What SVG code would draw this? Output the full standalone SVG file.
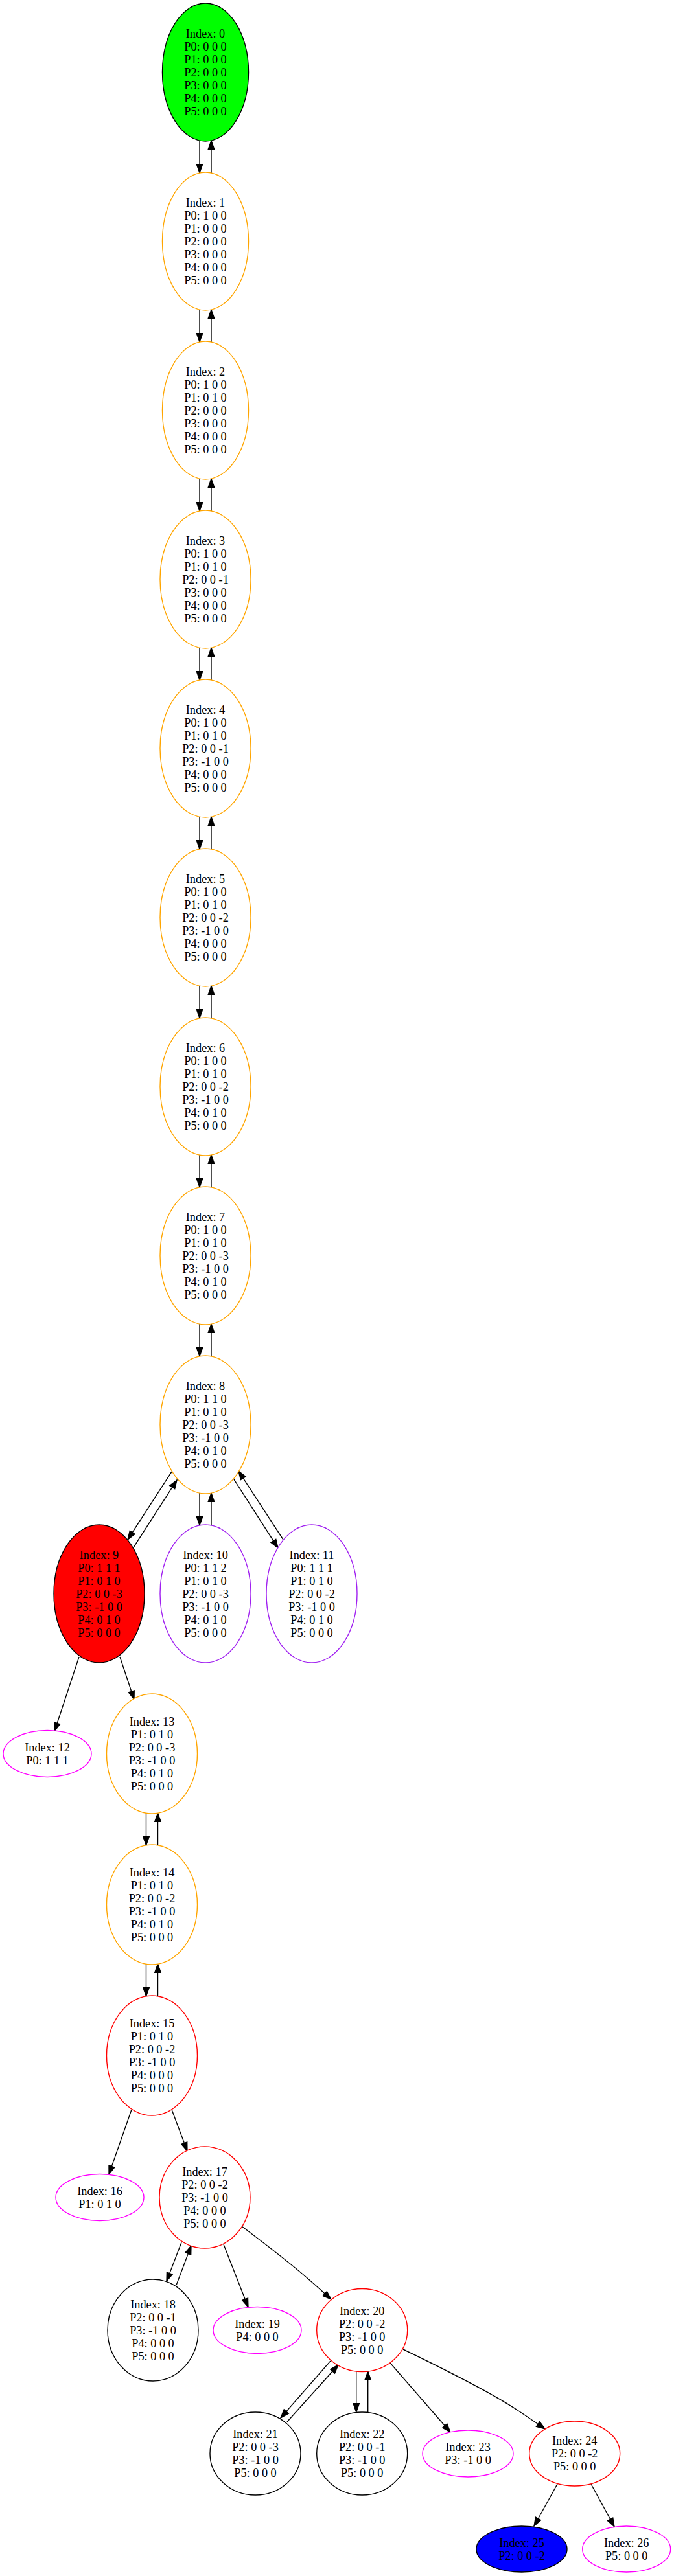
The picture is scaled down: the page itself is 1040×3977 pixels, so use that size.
<svg xmlns="http://www.w3.org/2000/svg" width="1040" height="3977" viewBox="0 0 1040 3977">
<defs>
<style>
text{font-family:"Liberation Serif","Times New Roman",serif;font-size:18.3px;text-anchor:middle;fill:#000}
ellipse{stroke-width:1.4}
.or{fill:#fff;stroke:#ffa500}
.pu{fill:#fff;stroke:#a020f0}
.mg{fill:#fff;stroke:#ff00ff}
.rd{fill:#fff;stroke:#ff0000}
.bk{fill:#fff;stroke:#000}
#edges path{fill:none;stroke:#000;stroke-width:1.4;marker-end:url(#ah)}
</style>
<marker id="ah" markerUnits="userSpaceOnUse" markerWidth="16" markerHeight="12" refX="13.3" refY="0" viewBox="-1 -6 16 12" orient="auto" overflow="visible">
<path d="M0,-4.7 L13.3,0 L0,4.7 Z" fill="#000" stroke="#000" stroke-width="1.3"/>
</marker>
</defs>
<rect width="1040" height="3977" fill="#fff"/>
<g id="edges">
<path d="M308,217 L308,267"/><path d="M326,267 L326,217"/>
<path d="M308,478 L308,528"/><path d="M326,528 L326,478"/>
<path d="M308,739 L308,789"/><path d="M326,789 L326,739"/>
<path d="M308,1000 L308,1050"/><path d="M326,1050 L326,1000"/>
<path d="M308,1261 L308,1311"/><path d="M326,1311 L326,1261"/>
<path d="M308,1522 L308,1572"/><path d="M326,1572 L326,1522"/>
<path d="M308,1783 L308,1833"/><path d="M326,1833 L326,1783"/>
<path d="M308,2044 L308,2094"/><path d="M326,2094 L326,2044"/>
<path d="M308,2305 L308,2355"/><path d="M326,2355 L326,2305"/>
<path d="M265,2272 L197,2377"/><path d="M206,2389 L273,2285"/>
<path d="M361,2284 L429,2390"/><path d="M437,2377 L368,2271"/>
<path d="M122,2558 L84,2673"/>
<path d="M185,2558 L207,2624"/>
<path d="M225.5,2799 L225.5,2849"/><path d="M243.5,2849 L243.5,2799"/>
<path d="M225.5,3032 L225.5,3082"/><path d="M243.5,3082 L243.5,3032"/>
<path d="M203,3257 L168,3357"/>
<path d="M265,3257 L289,3321"/>
<path d="M280,3462 L257,3522"/><path d="M272,3528 L295,3467"/>
<path d="M345,3465 L383,3562"/>
<path d="M373,3437 C410,3465 448,3494 474,3517 C487,3528 499,3539 511,3550"/>
<path d="M510,3645 L433,3733"/><path d="M443,3739 L522,3651"/>
<path d="M549.7,3661 L549.7,3724"/><path d="M567.7,3724 L567.7,3661"/>
<path d="M602,3648 L695,3755"/>
<path d="M622,3627 C680,3655 760,3695 800,3722 C815,3732 828,3741 841,3750"/>
<path d="M860,3835 L824,3900"/>
<path d="M912,3835 L948,3901"/>
</g>
<g id="n0"><ellipse cx="317" cy="111.5" rx="66.5" ry="106.5" fill="#00ff00" stroke="#000"/><text x="317" y="57.5"><tspan x="317">Index: 0</tspan><tspan x="317" dy="20">P0: 0 0 0</tspan><tspan x="317" dy="20">P1: 0 0 0</tspan><tspan x="317" dy="20">P2: 0 0 0</tspan><tspan x="317" dy="20">P3: 0 0 0</tspan><tspan x="317" dy="20">P4: 0 0 0</tspan><tspan x="317" dy="20">P5: 0 0 0</tspan></text></g>
<g id="n1"><ellipse class="or" cx="317" cy="372.5" rx="66.5" ry="106.5"/><text x="317" y="318.5"><tspan x="317">Index: 1</tspan><tspan x="317" dy="20">P0: 1 0 0</tspan><tspan x="317" dy="20">P1: 0 0 0</tspan><tspan x="317" dy="20">P2: 0 0 0</tspan><tspan x="317" dy="20">P3: 0 0 0</tspan><tspan x="317" dy="20">P4: 0 0 0</tspan><tspan x="317" dy="20">P5: 0 0 0</tspan></text></g>
<g id="n2"><ellipse class="or" cx="317" cy="633.5" rx="66.5" ry="106.5"/><text x="317" y="579.5"><tspan x="317">Index: 2</tspan><tspan x="317" dy="20">P0: 1 0 0</tspan><tspan x="317" dy="20">P1: 0 1 0</tspan><tspan x="317" dy="20">P2: 0 0 0</tspan><tspan x="317" dy="20">P3: 0 0 0</tspan><tspan x="317" dy="20">P4: 0 0 0</tspan><tspan x="317" dy="20">P5: 0 0 0</tspan></text></g>
<g id="n3"><ellipse class="or" cx="317" cy="894.5" rx="70" ry="106.5"/><text x="317" y="840.5"><tspan x="317">Index: 3</tspan><tspan x="317" dy="20">P0: 1 0 0</tspan><tspan x="317" dy="20">P1: 0 1 0</tspan><tspan x="317" dy="20">P2: 0 0 -1</tspan><tspan x="317" dy="20">P3: 0 0 0</tspan><tspan x="317" dy="20">P4: 0 0 0</tspan><tspan x="317" dy="20">P5: 0 0 0</tspan></text></g>
<g id="n4"><ellipse class="or" cx="317" cy="1155.5" rx="70" ry="106.5"/><text x="317" y="1101.5"><tspan x="317">Index: 4</tspan><tspan x="317" dy="20">P0: 1 0 0</tspan><tspan x="317" dy="20">P1: 0 1 0</tspan><tspan x="317" dy="20">P2: 0 0 -1</tspan><tspan x="317" dy="20">P3: -1 0 0</tspan><tspan x="317" dy="20">P4: 0 0 0</tspan><tspan x="317" dy="20">P5: 0 0 0</tspan></text></g>
<g id="n5"><ellipse class="or" cx="317" cy="1416.5" rx="70" ry="106.5"/><text x="317" y="1362.5"><tspan x="317">Index: 5</tspan><tspan x="317" dy="20">P0: 1 0 0</tspan><tspan x="317" dy="20">P1: 0 1 0</tspan><tspan x="317" dy="20">P2: 0 0 -2</tspan><tspan x="317" dy="20">P3: -1 0 0</tspan><tspan x="317" dy="20">P4: 0 0 0</tspan><tspan x="317" dy="20">P5: 0 0 0</tspan></text></g>
<g id="n6"><ellipse class="or" cx="317" cy="1677.5" rx="70" ry="106.5"/><text x="317" y="1623.5"><tspan x="317">Index: 6</tspan><tspan x="317" dy="20">P0: 1 0 0</tspan><tspan x="317" dy="20">P1: 0 1 0</tspan><tspan x="317" dy="20">P2: 0 0 -2</tspan><tspan x="317" dy="20">P3: -1 0 0</tspan><tspan x="317" dy="20">P4: 0 1 0</tspan><tspan x="317" dy="20">P5: 0 0 0</tspan></text></g>
<g id="n7"><ellipse class="or" cx="317" cy="1938.5" rx="70" ry="106.5"/><text x="317" y="1884.5"><tspan x="317">Index: 7</tspan><tspan x="317" dy="20">P0: 1 0 0</tspan><tspan x="317" dy="20">P1: 0 1 0</tspan><tspan x="317" dy="20">P2: 0 0 -3</tspan><tspan x="317" dy="20">P3: -1 0 0</tspan><tspan x="317" dy="20">P4: 0 1 0</tspan><tspan x="317" dy="20">P5: 0 0 0</tspan></text></g>
<g id="n8"><ellipse class="or" cx="317" cy="2199.5" rx="70" ry="106.5"/><text x="317" y="2145.5"><tspan x="317">Index: 8</tspan><tspan x="317" dy="20">P0: 1 1 0</tspan><tspan x="317" dy="20">P1: 0 1 0</tspan><tspan x="317" dy="20">P2: 0 0 -3</tspan><tspan x="317" dy="20">P3: -1 0 0</tspan><tspan x="317" dy="20">P4: 0 1 0</tspan><tspan x="317" dy="20">P5: 0 0 0</tspan></text></g>
<g id="n9"><ellipse cx="153" cy="2460.5" rx="70" ry="106.5" fill="#ff0000" stroke="#000"/><text x="153" y="2406.5"><tspan x="153">Index: 9</tspan><tspan x="153" dy="20">P0: 1 1 1</tspan><tspan x="153" dy="20">P1: 0 1 0</tspan><tspan x="153" dy="20">P2: 0 0 -3</tspan><tspan x="153" dy="20">P3: -1 0 0</tspan><tspan x="153" dy="20">P4: 0 1 0</tspan><tspan x="153" dy="20">P5: 0 0 0</tspan></text></g>
<g id="n10"><ellipse class="pu" cx="317" cy="2460.5" rx="70" ry="106.5"/><text x="317" y="2406.5"><tspan x="317">Index: 10</tspan><tspan x="317" dy="20">P0: 1 1 2</tspan><tspan x="317" dy="20">P1: 0 1 0</tspan><tspan x="317" dy="20">P2: 0 0 -3</tspan><tspan x="317" dy="20">P3: -1 0 0</tspan><tspan x="317" dy="20">P4: 0 1 0</tspan><tspan x="317" dy="20">P5: 0 0 0</tspan></text></g>
<g id="n11"><ellipse class="pu" cx="481" cy="2460.5" rx="70" ry="106.5"/><text x="481" y="2406.5"><tspan x="481">Index: 11</tspan><tspan x="481" dy="20">P0: 1 1 1</tspan><tspan x="481" dy="20">P1: 0 1 0</tspan><tspan x="481" dy="20">P2: 0 0 -2</tspan><tspan x="481" dy="20">P3: -1 0 0</tspan><tspan x="481" dy="20">P4: 0 1 0</tspan><tspan x="481" dy="20">P5: 0 0 0</tspan></text></g>
<g id="n12"><ellipse class="mg" cx="73" cy="2707.5" rx="68" ry="36"/><text x="73" y="2703.5"><tspan x="73">Index: 12</tspan><tspan x="73" dy="20">P0: 1 1 1</tspan></text></g>
<g id="n13"><ellipse class="or" cx="234.5" cy="2707.5" rx="70" ry="92.5"/><text x="234.5" y="2663.5"><tspan x="234.5">Index: 13</tspan><tspan x="234.5" dy="20">P1: 0 1 0</tspan><tspan x="234.5" dy="20">P2: 0 0 -3</tspan><tspan x="234.5" dy="20">P3: -1 0 0</tspan><tspan x="234.5" dy="20">P4: 0 1 0</tspan><tspan x="234.5" dy="20">P5: 0 0 0</tspan></text></g>
<g id="n14"><ellipse class="or" cx="234.5" cy="2940.5" rx="70" ry="92.5"/><text x="234.5" y="2896.5"><tspan x="234.5">Index: 14</tspan><tspan x="234.5" dy="20">P1: 0 1 0</tspan><tspan x="234.5" dy="20">P2: 0 0 -2</tspan><tspan x="234.5" dy="20">P3: -1 0 0</tspan><tspan x="234.5" dy="20">P4: 0 1 0</tspan><tspan x="234.5" dy="20">P5: 0 0 0</tspan></text></g>
<g id="n15"><ellipse class="rd" cx="234.5" cy="3173.5" rx="70" ry="92.5"/><text x="234.5" y="3129.5"><tspan x="234.5">Index: 15</tspan><tspan x="234.5" dy="20">P1: 0 1 0</tspan><tspan x="234.5" dy="20">P2: 0 0 -2</tspan><tspan x="234.5" dy="20">P3: -1 0 0</tspan><tspan x="234.5" dy="20">P4: 0 0 0</tspan><tspan x="234.5" dy="20">P5: 0 0 0</tspan></text></g>
<g id="n16"><ellipse class="mg" cx="154" cy="3392.5" rx="68" ry="36"/><text x="154" y="3388.5"><tspan x="154">Index: 16</tspan><tspan x="154" dy="20">P1: 0 1 0</tspan></text></g>
<g id="n17"><ellipse class="rd" cx="316" cy="3392.5" rx="70" ry="78.5"/><text x="316" y="3358.5"><tspan x="316">Index: 17</tspan><tspan x="316" dy="20">P2: 0 0 -2</tspan><tspan x="316" dy="20">P3: -1 0 0</tspan><tspan x="316" dy="20">P4: 0 0 0</tspan><tspan x="316" dy="20">P5: 0 0 0</tspan></text></g>
<g id="n18"><ellipse class="bk" cx="236" cy="3597.5" rx="70" ry="78.5"/><text x="236" y="3563.5"><tspan x="236">Index: 18</tspan><tspan x="236" dy="20">P2: 0 0 -1</tspan><tspan x="236" dy="20">P3: -1 0 0</tspan><tspan x="236" dy="20">P4: 0 0 0</tspan><tspan x="236" dy="20">P5: 0 0 0</tspan></text></g>
<g id="n19"><ellipse class="mg" cx="397" cy="3597.5" rx="68" ry="36"/><text x="397" y="3593.5"><tspan x="397">Index: 19</tspan><tspan x="397" dy="20">P4: 0 0 0</tspan></text></g>
<g id="n20"><ellipse class="rd" cx="558.7" cy="3597.5" rx="70" ry="64"/><text x="558.7" y="3573.5"><tspan x="558.7">Index: 20</tspan><tspan x="558.7" dy="20">P2: 0 0 -2</tspan><tspan x="558.7" dy="20">P3: -1 0 0</tspan><tspan x="558.7" dy="20">P5: 0 0 0</tspan></text></g>
<g id="n21"><ellipse class="bk" cx="394" cy="3788" rx="70" ry="64"/><text x="394" y="3764"><tspan x="394">Index: 21</tspan><tspan x="394" dy="20">P2: 0 0 -3</tspan><tspan x="394" dy="20">P3: -1 0 0</tspan><tspan x="394" dy="20">P5: 0 0 0</tspan></text></g>
<g id="n22"><ellipse class="bk" cx="558.7" cy="3788" rx="70" ry="64"/><text x="558.7" y="3764"><tspan x="558.7">Index: 22</tspan><tspan x="558.7" dy="20">P2: 0 0 -1</tspan><tspan x="558.7" dy="20">P3: -1 0 0</tspan><tspan x="558.7" dy="20">P5: 0 0 0</tspan></text></g>
<g id="n23"><ellipse class="mg" cx="722" cy="3788" rx="70" ry="36"/><text x="722" y="3784"><tspan x="722">Index: 23</tspan><tspan x="722" dy="20">P3: -1 0 0</tspan></text></g>
<g id="n24"><ellipse class="rd" cx="886.7" cy="3788" rx="70" ry="50"/><text x="886.7" y="3774"><tspan x="886.7">Index: 24</tspan><tspan x="886.7" dy="20">P2: 0 0 -2</tspan><tspan x="886.7" dy="20">P5: 0 0 0</tspan></text></g>
<g id="n25"><ellipse cx="805" cy="3935.5" rx="70" ry="35.5" fill="#0000ff" stroke="#000"/><text x="805" y="3931.5"><tspan x="805">Index: 25</tspan><tspan x="805" dy="20">P2: 0 0 -2</tspan></text></g>
<g id="n26"><ellipse class="mg" cx="966.7" cy="3935.5" rx="68" ry="35.5"/><text x="966.7" y="3931.5"><tspan x="966.7">Index: 26</tspan><tspan x="966.7" dy="20">P5: 0 0 0</tspan></text></g>
</svg>
